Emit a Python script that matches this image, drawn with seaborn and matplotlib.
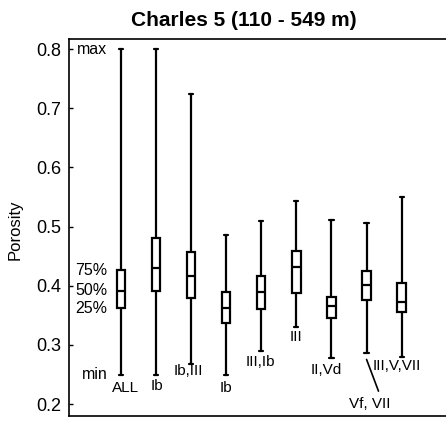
import numpy as np
import pandas as pd
import matplotlib
matplotlib.use("Agg")
import matplotlib.pyplot as plt
import seaborn as sns

# ---- data ----
categories = ["ALL", "Ib", "Ib,III", "Ib", "III,Ib", "III", "II,Vd", "Vf, VII", "III,V,VII"]
mins    = [0.250, 0.250, 0.268, 0.249, 0.289, 0.330, 0.278, 0.287, 0.280]
q1s     = [0.362, 0.391, 0.379, 0.337, 0.360, 0.388, 0.345, 0.376, 0.355]
medians = [0.392, 0.430, 0.416, 0.363, 0.390, 0.432, 0.366, 0.401, 0.373]
q3s     = [0.426, 0.481, 0.457, 0.390, 0.416, 0.459, 0.381, 0.425, 0.405]
maxs    = [0.800, 0.800, 0.724, 0.486, 0.509, 0.544, 0.512, 0.506, 0.550]
yticks  = [0.2, 0.3, 0.4, 0.5, 0.6, 0.7, 0.8]
stat_labels = ["max", "75%", "50%", "25%", "min"]

# five-number summaries -> long table (linear percentiles of 5 values reproduce them exactly)
rows = []
for i in range(len(categories)):
    for v in (mins[i], q1s[i], medians[i], q3s[i], maxs[i]):
        rows.append({"group": i, "Porosity": v})
df = pd.DataFrame(rows)

sns.set_theme(style="white")
plt.rcParams["font.family"] = ["Liberation Sans", "DejaVu Sans"]
plt.rcParams.update({"text.color": "black", "axes.labelcolor": "black",
                     "xtick.color": "black", "ytick.color": "black"})

fig = plt.figure(figsize=(4.46, 4.21), dpi=100)
ax = fig.add_axes([68.5 / 446, 1 - 416 / 421, 1 - 68.5 / 446 + 0.01, (416 - 39) / 421])

sns.boxplot(data=df, x="group", y="Porosity", whis=(0, 100), width=0.24,
            color="white", linecolor="black", linewidth=1.6, fill=True,
            saturation=1, ax=ax)

ax.set_xlim(-1.49, 9.39)
ax.set_ylim(0.18, 0.817)
ax.set_yticks(yticks)
ax.set_yticklabels([f"{t:.1f}" for t in yticks], fontsize=13)
ax.tick_params(axis="y", direction="in", length=3, width=1, colors="black", pad=5, left=True)
ax.set_xticks([])
ax.set_xlabel("")
ax.set_ylabel("Porosity", fontsize=12)
ax.yaxis.set_label_coords(-0.12, 0.493)

for s in ["left", "top", "bottom"]:
    ax.spines[s].set_visible(True)
    ax.spines[s].set_color("black")
    ax.spines[s].set_linewidth(1.2)
ax.spines["right"].set_visible(False)

# category labels below the whiskers
label_xy = [(0.135, 0.228), (1.02, 0.230), (1.92, 0.256), (2.99, 0.228), (3.97, 0.272),
            (4.98, 0.314), (5.84, 0.258), (7.08, 0.201), (7.87, 0.264)]
for name, (lx, ly) in zip(categories, label_xy):
    ax.text(lx, ly, name, ha="center", va="center", fontsize=11, color="black")
ax.plot([7.0, 7.34], [0.2756, 0.222], color="black", lw=1.2)

# statistic labels beside the ALL box
stat_vals = [maxs[0], q3s[0], medians[0], q1s[0], mins[0]]
for lab, v in zip(stat_labels, stat_vals):
    ax.text(-0.38, v, lab, ha="right", va="center", fontsize=11.5, color="black")

fig.suptitle("Charles 5 (110 - 549 m)", x=244 / 446, y=1 - 20 / 421, va="center",
             fontsize=15, fontweight="bold", color="black")

fig.savefig("out.png", dpi=100)
